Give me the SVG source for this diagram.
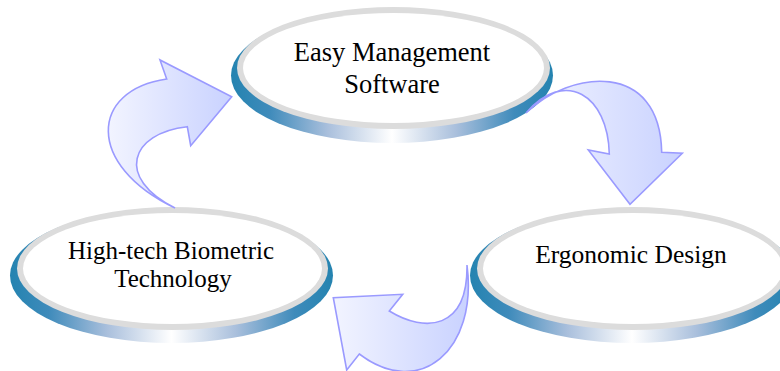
<svg xmlns="http://www.w3.org/2000/svg" width="780" height="371" viewBox="0 0 780 371">
  <defs>
    <linearGradient id="rim" x1="0" y1="0" x2="1" y2="0">
      <stop offset="0" stop-color="#2483b0"/>
      <stop offset="0.12" stop-color="#3f8bbb"/>
      <stop offset="0.3" stop-color="#a9bfdc"/>
      <stop offset="0.5" stop-color="#ffffff"/>
      <stop offset="0.7" stop-color="#a9bfdc"/>
      <stop offset="0.88" stop-color="#3f8bbb"/>
      <stop offset="1" stop-color="#2483b0"/>
    </linearGradient>
    <linearGradient id="arr" x1="0" y1="0" x2="1" y2="0">
      <stop offset="0" stop-color="#f2f4ff"/>
      <stop offset="1" stop-color="#c9d2ff"/>
    </linearGradient>
    <style>
      .rim { fill: url(#rim); }
      .ring { fill: #dcdcdc; }
      .face { fill: #ffffff; }
      .lbl { font-family: "Liberation Serif", "Times New Roman", serif; font-size: 25px; fill: #000; text-anchor: middle; }
      .arrow { fill: url(#arr); stroke: #9a9aff; stroke-width: 1.6; stroke-linejoin: miter; }
    </style>
  </defs>
  <rect width="780" height="371" fill="#ffffff"/>

  <g id="node-software">
    <ellipse class="rim" cx="392" cy="75.5" rx="161" ry="67.5"/>
    <ellipse class="ring" cx="393.5" cy="68" rx="156.5" ry="61"/>
    <ellipse class="face" cx="393.5" cy="68" rx="150.5" ry="55"/>
    <text class="lbl" x="392" y="60.5" style="font-size:26.5px">Easy Management</text>
    <text class="lbl" x="392" y="93" style="font-size:26.5px">Software</text>
  </g>

  <g id="node-biometric">
    <ellipse class="rim" cx="171.5" cy="275.5" rx="161.5" ry="67.5"/>
    <ellipse class="ring" cx="172.5" cy="268.5" rx="155.5" ry="61.5"/>
    <ellipse class="face" cx="172.5" cy="268.5" rx="149.5" ry="55.5"/>
    <text class="lbl" x="171" y="258.5">High-tech Biometric</text>
    <text class="lbl" x="173" y="287">Technology</text>
  </g>

  <g id="node-ergonomic">
    <ellipse class="rim" cx="632" cy="275.5" rx="162" ry="67.5"/>
    <ellipse class="ring" cx="633" cy="268.5" rx="156" ry="61.5"/>
    <ellipse class="face" cx="633" cy="268.5" rx="150" ry="55.5"/>
    <text class="lbl" x="631" y="263" style="font-size:25.5px">Ergonomic Design</text>
  </g>

  <g id="connectors">
    <path class="arrow" d="M 175,208 C 85,165 90,90 166.7,79 L 160,60 L 231.7,96.7 L 190.7,145.7 L 187.3,126.7 C 130,133 115,178 175,208 Z"/>
    <path class="arrow" d="M 526,113 C 570,70 660,60 661.7,152.3 L 682.3,153.3 L 630,204.3 L 588.3,150 L 609.3,154 C 608,95 565,68 526,113 Z"/>
    <path class="arrow" d="M 467,265 C 478,350 420,400 359.3,354 L 346.7,370 L 333.3,297.7 L 402.7,294.3 L 389.3,311 C 425,333 468,330 467,265 Z"/>
  </g>
</svg>
